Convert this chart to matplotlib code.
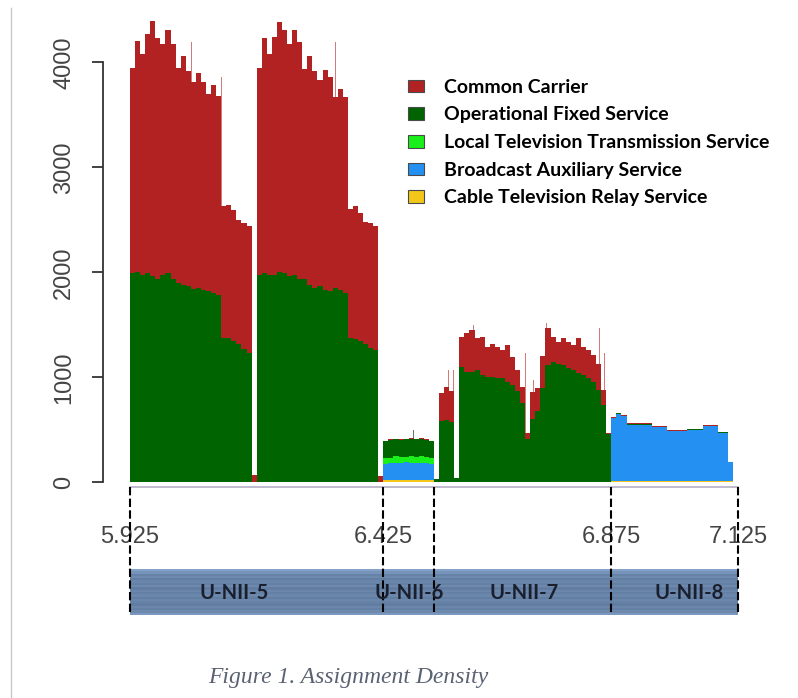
import numpy as np
import matplotlib
matplotlib.use('Agg')
import matplotlib.pyplot as plt
from matplotlib.patches import Patch
from matplotlib.colors import LinearSegmentedColormap

# ── Data: assignments per 10 MHz bin, 5.925 - 7.125 GHz ─────────
f_start = 5.925
bin_ghz = 0.010

# U-NII-5 (bins 0-49), U-NII-6 (50-59), U-NII-7 (60-94), U-NII-8 (95-119)
common_carrier = (
    [1960, 2200, 2105, 2280, 2425, 2290, 2195, 2320, 2230, 2050, 2180, 2050,
     1970, 2050, 1980, 1880, 1980, 1900, 1255, 1270, 1245, 1180, 1200, 1205]
    + [70]
    + [1975, 2240, 2105, 2265, 2380, 2320, 2210, 2335, 2250, 2000, 2180, 2070,
       1965, 2100, 2040, 1820, 1920, 1870, 1225, 1270, 1215, 1165, 1190, 1180]
    + [60]
    + [5, 8, 5, 10, 5, 8, 5, 10, 5, 5]
    + [0, 270, 320, 300, 0,
       285, 365, 395, 300, 360, 285, 315, 300, 270, 345,
       265, 200, 150, 60, 260, 220, 300, 350, 235, 210,
       255, 255, 235, 330, 265, 270, 250, 250, 140, 10]
    + [6] * 23 + [0, 0]
)
fixed_service = (
    [1990, 2000, 1975, 1990, 1965, 1940, 1975, 1990, 1940, 1900, 1880, 1870,
     1840, 1850, 1830, 1820, 1800, 1780, 1375, 1370, 1345, 1320, 1270, 1235]
    + [0]
    + [1975, 1990, 1975, 1975, 2000, 1990, 1960, 1975, 1940, 1940, 1880, 1850,
       1865, 1830, 1820, 1850, 1830, 1800, 1375, 1360, 1345, 1315, 1280, 1260]
    + [0]
    + [160, 170, 160, 165, 165, 155, 170, 160, 165, 160]
    + [35, 580, 590, 570, 45,
       1100, 1055, 1055, 1070, 1025, 1005, 1005, 990, 990, 960,
       930, 870, 760, 410, 600, 680, 900, 1115, 1150, 1130,
       1115, 1085, 1070, 1040, 1025, 990, 960, 880, 740, 460]
    + [6] * 23 + [0, 0]
)
local_tv = [0] * 50 + [60, 55, 65, 60, 55, 70, 60, 65, 60, 55] + [0] * 60
broadcast_aux = (
    [0] * 50
    + [150, 160, 165, 160, 170, 165, 160, 165, 160, 155]
    + [0] * 35
    + [593, 636, 613, 535, 535, 535, 535, 535, 509, 509, 509, 471, 471,
       471, 471, 483, 483, 483, 518, 518, 518, 454, 454, 182, 0]
)
cable_relay = [0] * 50 + [20] * 10 + [0] * 35 + [15] * 24 + [0]

# thin single-channel spikes above the blocks
spike_freq = [6.047, 6.077, 6.106, 6.136, 6.300, 6.330, 6.359, 6.391,
              6.553, 6.563, 6.603, 6.649, 6.691, 6.705, 6.721, 6.747,
              6.803, 6.852, 6.862]
spike_top = [4196, 4196, 3863, 3831, 4196, 4196, 3850, 3820,
             1070, 1070, 1500, 1450, 1467, 1229, 974, 1514,
             1467, 1467, 1229]
unii6_spike_freq = [6.434, 6.448, 6.462, 6.474, 6.484, 6.501, 6.513]
unii6_spike_top = [480, 495, 490, 500, 495, 485, 480]

band_edges = [5.925, 6.425, 6.525, 6.875, 7.125]
band_names = ['U-NII-5', 'U-NII-6', 'U-NII-7', 'U-NII-8']
band_label_x = [6.130, 6.476, 6.703, 7.028]
freq_ticks = [5.925, 6.425, 6.875, 7.125]
freq_labels = ['5.925', '6.425', '6.875', '7.125']

series = [cable_relay, broadcast_aux, local_tv, fixed_service, common_carrier]
names = ['Cable Television Relay Service', 'Broadcast Auxiliary Service',
         'Local Television Transmission Service', 'Operational Fixed Service',
         'Common Carrier']
colors = ['#f2c71a', '#2390f2', '#19f019', '#006400', '#b22222']

# ── Plot ────────────────────────────────────────────────────
fig = plt.figure(figsize=(7.98, 6.98), dpi=100)
ax = fig.add_axes([0, 0, 1, 1])

x = f_start + bin_ghz * np.arange(len(common_carrier))
bottom = np.zeros(len(x))
for vals, col in zip(series, colors):
    vals = np.array(vals, dtype=float)
    ax.bar(x, vals, width=bin_ghz, bottom=bottom, align='edge',
           color=col, linewidth=0, zorder=3)
    bottom += vals

ax.bar(spike_freq, spike_top, width=0.0013, color='#c85a5a', alpha=0.8,
       linewidth=0, zorder=2)
ax.bar(unii6_spike_freq, unii6_spike_top, width=0.0013, color='#3d5a3d',
       alpha=0.8, linewidth=0, zorder=2)

# faint baseline under the bars
ax.plot([band_edges[0], band_edges[-1]], [-48, -48], color='#b4aec4',
        lw=1.2, zorder=2)

# band strip with horizontal texture
stripe = np.array([[0.9], [0.7], [0.45], [0.55], [0.4], [0.5], [0.42],
                   [0.55], [0.38], [0.5], [0.42], [0.52], [0.4], [0.5],
                   [0.45], [0.38], [0.5], [0.42], [0.55], [0.75]])
cmap = LinearSegmentedColormap.from_list('strip', ['#4a6285', '#8aaad0'])
ax.imshow(stripe, extent=[band_edges[0], band_edges[-1], -1262, -830],
          aspect='auto', cmap=cmap, vmin=0, vmax=1, zorder=1,
          interpolation='nearest')
for name, bx in zip(band_names, band_label_x):
    ax.text(bx, -1050, name, ha='center', va='center', fontsize=14.5,
            fontweight='bold', family='Lato', color='#1a1f2e', zorder=5)

for e in band_edges:
    ax.plot([e, e], [-45, -1268], color='black', lw=1.5,
            ls=(0, (4, 1.6)), zorder=4)
for f, lab in zip(freq_ticks, freq_labels):
    ax.text(f, -520, lab, ha='center', va='center', fontsize=17,
            family='Liberation Sans', color='#444444')

# y axis, R style
ax.spines[['top', 'right', 'bottom']].set_visible(False)
ax.spines['left'].set_position(('data', 5.8717))
ax.spines['left'].set_bounds(0, 4000)
ax.spines['left'].set_color('#333333')
ax.spines['left'].set_linewidth(1.3)
ax.set_xticks([])
ax.set_yticks([0, 1000, 2000, 3000, 4000])
ax.set_yticklabels(['0', '1000', '2000', '3000', '4000'], rotation=90,
                   va='center', fontsize=17, family='Liberation Sans',
                   color='#444444')
ax.tick_params(axis='y', length=8, width=1.3, color='#333333', pad=12)

ax.set_xlim(5.6684, 7.2434)
ax.set_ylim(-2054, 4593)
ax.patch.set_alpha(0)

# left border of the page
fig.add_artist(plt.Line2D([10.5 / 798, 10.5 / 798], [0, 1 - 8 / 698],
                          color='#c8c8c8', lw=1))

handles = [Patch(facecolor=c, edgecolor='#4a4a4a', lw=0.8)
           for c in colors[::-1]]
fig.legend(handles, names[::-1], loc='upper left',
           bbox_to_anchor=(398 / 798, 1 - 69 / 698), frameon=False,
           prop={'family': 'Lato', 'weight': 'bold', 'size': 14.0},
           handlelength=0.85, handleheight=0.62, handletextpad=1.0,
           labelspacing=0.55, borderpad=0)

fig.text(348 / 798, 1 - 678 / 698, 'Figure 1. Assignment Density',
         ha='center', va='center', fontsize=17, style='italic',
         family='Liberation Serif', color='#5a6272')

plt.savefig('out.png', dpi=100)
